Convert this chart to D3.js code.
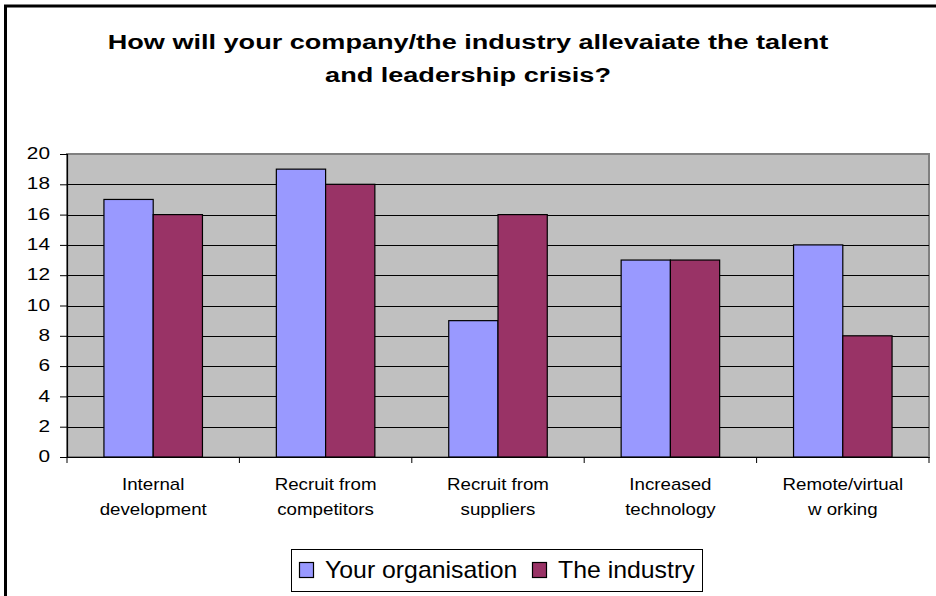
<!DOCTYPE html>
<html>
<head>
<meta charset="utf-8">
<script src="https://cdn.jsdelivr.net/npm/d3@7"></script>
<style>
  body { margin: 0; background: #fff; }
  text { font-family: "Liberation Sans", Arial, sans-serif; }
</style>
</head>
<body>
<script>
// data
const categories = [
  ["Internal", "development"],
  ["Recruit from", "competitors"],
  ["Recruit from", "suppliers"],
  ["Increased", "technology"],
  ["Remote/virtual", "w orking"]
];
const seriesNames = ["Your organisation", "The industry"];
const yourOrg = [17, 19, 9, 13, 14];
const industry = [16, 18, 16, 13, 8];
const yTicks = [0, 2, 4, 6, 8, 10, 12, 14, 16, 18, 20];
const titleLines = ["How will your company/the industry allevaiate the talent", "and leadership crisis?"];
const colors = ["#9999FF", "#993366"];

const W = 936, H = 596;
const plot = {left: 67, right: 929, top: 154, bottom: 457};

// the original picture is stretched sideways, so text gets a horizontal scale
function stretchText(sel, x, y, sx) {
  sel.attr("x", 0).attr("y", 0)
    .attr("transform", `translate(${x},${y}) scale(${sx},1)`);
}

const svg = d3.select("body").append("svg")
  .attr("width", W)
  .attr("height", H);

// outer chart frame (right/bottom edges are cut off in the picture)
svg.append("path")
  .attr("d", `M5.5,${H + 5} L5.5,6 L${W + 5},6`)
  .attr("fill", "none")
  .attr("stroke", "#000")
  .attr("stroke-width", 3);

// title
titleLines.forEach((line, i) => {
  svg.append("text")
    .attr("text-anchor", "middle")
    .attr("font-weight", "bold")
    .attr("font-size", "21px")
    .attr("fill", "#000")
    .text(line)
    .call(stretchText, 468, 49 + i * 33, 1.29);
});

const x0 = d3.scaleBand()
  .domain(d3.range(categories.length))
  .range([plot.left, plot.right]);

// excel style gap width 150%
const barW = x0.bandwidth() / (2 + 1.5);
const x1 = d3.scaleBand()
  .domain([0, 1])
  .range([0, barW * 2]);

const y = d3.scaleLinear()
  .domain([0, 20])
  .range([plot.bottom, plot.top]);

// plot area
svg.append("rect")
  .attr("x", plot.left)
  .attr("y", plot.top)
  .attr("width", plot.right - plot.left)
  .attr("height", plot.bottom - plot.top)
  .attr("fill", "#C0C0C0")
  .attr("stroke", "#808080")
  .attr("stroke-width", 2);

// gridlines
svg.append("g")
  .selectAll("line")
  .data(yTicks.filter(d => d > 0 && d < 20))
  .enter()
  .append("line")
    .attr("x1", plot.left)
    .attr("x2", plot.right)
    .attr("y1", d => Math.round(y(d)) + 0.5)
    .attr("y2", d => Math.round(y(d)) + 0.5)
    .attr("stroke", "#000")
    .attr("stroke-width", 1);

// bars
const series = [yourOrg, industry];
const groups = svg.append("g")
  .selectAll("g")
  .data(categories)
  .enter()
  .append("g")
    .attr("transform", (d, i) => `translate(${x0(i) + (x0.bandwidth() - barW * 2) / 2},0)`);

groups.selectAll("rect")
  .data((d, i) => series.map((s, k) => ({k: k, v: s[i]})))
  .enter()
  .append("rect")
    .attr("x", d => x1(d.k))
    .attr("y", d => y(d.v))
    .attr("width", x1.bandwidth())
    .attr("height", d => y(0) - y(d.v))
    .attr("fill", d => colors[d.k])
    .attr("stroke", "#000")
    .attr("stroke-width", 1.2);

// y axis
const yAxis = svg.append("g")
  .attr("transform", `translate(${plot.left},0)`)
  .call(d3.axisLeft(y).tickValues(yTicks).tickSize(7).tickPadding(10));
yAxis.select(".domain").attr("stroke", "#000").attr("stroke-width", 1.2);
yAxis.selectAll(".tick line").attr("stroke", "#000");
yAxis.selectAll(".tick text")
  .attr("font-family", "Liberation Sans, Arial, sans-serif")
  .attr("font-size", "16px")
  .attr("fill", "#000")
  .attr("dy", "0.29em")
  .call(stretchText, -17, 0, 1.3);

// x axis
const xAxis = svg.append("g")
  .attr("transform", `translate(0,${plot.bottom})`)
  .call(d3.axisBottom(x0).tickSize(0).tickFormat(""));
xAxis.select(".domain").attr("stroke", "#000").attr("stroke-width", 1.2);
xAxis.selectAll(".sep")
  .data(d3.range(categories.length + 1))
  .enter()
  .append("line")
    .attr("class", "sep")
    .attr("x1", i => i < categories.length ? x0(i) : plot.right)
    .attr("x2", i => i < categories.length ? x0(i) : plot.right)
    .attr("y1", 0)
    .attr("y2", 6)
    .attr("stroke", "#000");

const catLabels = svg.append("g");
categories.forEach((lines, i) => {
  lines.forEach((line, j) => {
    catLabels.append("text")
      .attr("text-anchor", "middle")
      .attr("font-size", "16px")
      .attr("fill", "#000")
      .text(line)
      .call(stretchText, x0(i) + x0.bandwidth() / 2, 490 + j * 25, 1.17);
  });
});

// legend
const legend = svg.append("g");
legend.append("rect")
  .attr("x", 291.5)
  .attr("y", 549.5)
  .attr("width", 411)
  .attr("height", 42)
  .attr("fill", "#fff")
  .attr("stroke", "#000")
  .attr("stroke-width", 1);

const legendX = [299, 532];
const items = legend.selectAll(".item")
  .data(seriesNames)
  .enter()
  .append("g")
    .attr("class", "item")
    .attr("transform", (d, i) => `translate(${legendX[i]},0)`);
items.append("rect")
  .attr("x", 0.5)
  .attr("y", 562.5)
  .attr("width", 14)
  .attr("height", 15)
  .attr("fill", (d, i) => colors[i])
  .attr("stroke", "#000")
  .attr("stroke-width", 1.2);
items.append("text")
  .attr("font-size", "23px")
  .attr("fill", "#000")
  .text(d => d)
  .call(stretchText, 26, 578, 1.08);
</script>
</body>
</html>
